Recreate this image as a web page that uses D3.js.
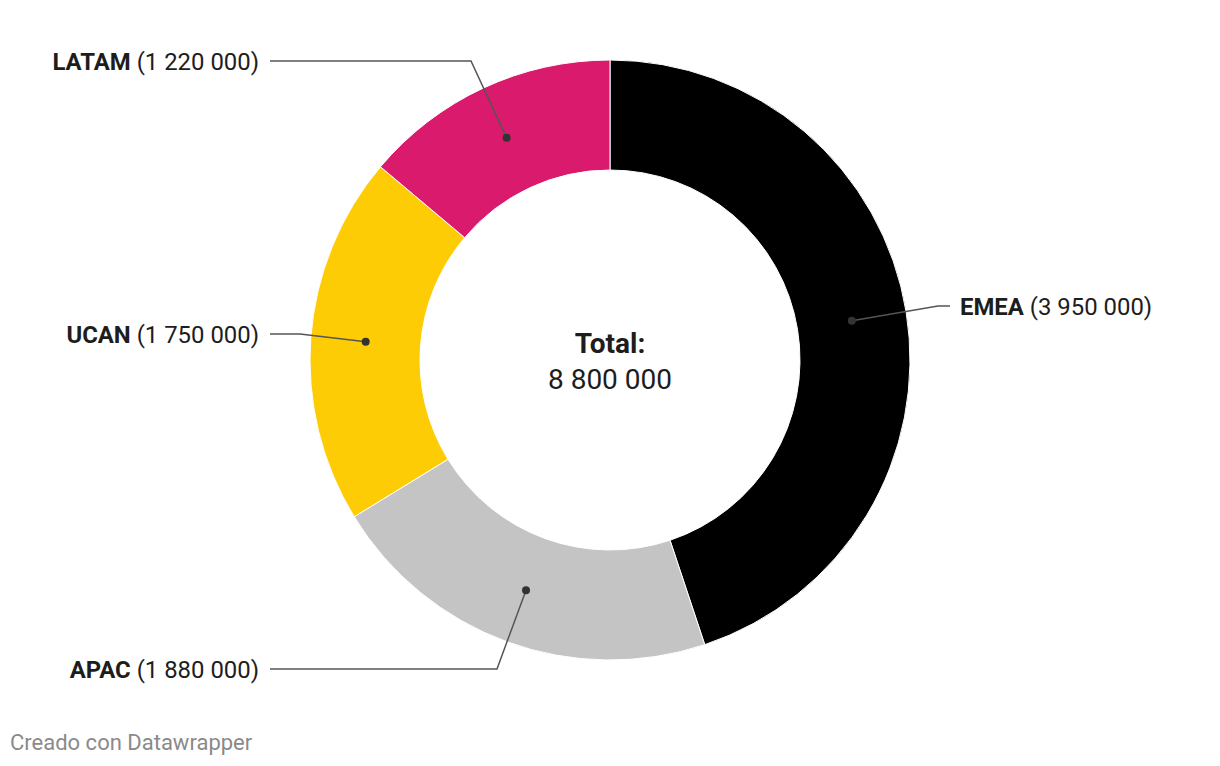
<!DOCTYPE html>
<html><head><meta charset="utf-8">
<script src="https://cdn.jsdelivr.net/npm/d3@7"></script>
<style>
html,body{margin:0;padding:0;background:#fff;}
svg{display:block;font-family:Roboto,"Noto Sans",sans-serif;}
</style></head>
<body><svg id="c" width="1220" height="766"></svg>
<script>
const categories = ["EMEA", "APAC", "UCAN", "LATAM"];
const values = [3950000, 1880000, 1750000, 1220000];
const colors = ["#000000", "#c4c4c4", "#fecc05", "#d91a6d"];
const totalLabel = "Total:";

const fmt = v => d3.format(",")(v).replace(/,/g, " ");
const svg = d3.select("#c");
const cx = 610, cy = 360, rOuter = 300, rInner = 190;

// label anchor layout
const labelLayout = {
  EMEA: {ex: 938, ey: 306, lx: 950, side: "right"},
  APAC: {ex: 497, ey: 669, lx: 270, side: "left"},
  UCAN: {ex: 300, ey: 334, lx: 270, side: "left"},
  LATAM: {ex: 471, ey: 61, lx: 270, side: "left"}
};

const data = categories.map((c, i) => ({name: c, value: values[i], color: colors[i]}));
const pie = d3.pie().value(d => d.value).sort(null);
const arcs = pie(data);
const arc = d3.arc().innerRadius(rInner).outerRadius(rOuter);
const mid = d3.arc().innerRadius((rInner + rOuter) / 2).outerRadius((rInner + rOuter) / 2);

const g = svg.append("g").attr("transform", `translate(${cx},${cy})`);
g.selectAll("path.slice").data(arcs).join("path")
  .attr("class", "slice")
  .attr("d", arc)
  .attr("fill", d => d.data.color)
  .attr("stroke", "#fff").attr("stroke-width", 1);

arcs.forEach(d => {
  const [px, py] = mid.centroid(d);
  const L = labelLayout[d.data.name];
  const x0 = cx + px, y0 = cy + py;
  svg.append("path")
    .attr("d", `M${x0},${y0}L${L.ex},${L.ey}L${L.lx},${L.ey}`)
    .attr("fill", "none").attr("stroke", "#555").attr("stroke-width", 1.5);
  svg.append("circle").attr("cx", x0).attr("cy", y0).attr("r", 4).attr("fill", "#333");
  const t = svg.append("text")
    .attr("x", L.side === "right" ? L.lx + 10 : L.lx - 11)
    .attr("y", L.ey + 8.5)
    .attr("text-anchor", L.side === "right" ? "start" : "end")
    .attr("font-size", 23.9).attr("fill", "#1d1d1d");
  t.append("tspan").attr("font-weight", 700).text(d.data.name);
  t.append("tspan").text(" (" + fmt(d.data.value) + ")");
});

const total = d3.sum(values);
svg.append("text").attr("x", cx).attr("y", 353).attr("text-anchor", "middle")
  .attr("font-size", 28).attr("font-weight", 700).attr("fill", "#1d1d1d").text(totalLabel);
svg.append("text").attr("x", cx).attr("y", 389).attr("text-anchor", "middle")
  .attr("font-size", 28).attr("fill", "#1d1d1d").text(fmt(total));

svg.append("text").attr("x", 10).attr("y", 750).attr("font-size", 22)
  .attr("fill", "#8a8a8a").text("Creado con Datawrapper");
</script></body></html>
